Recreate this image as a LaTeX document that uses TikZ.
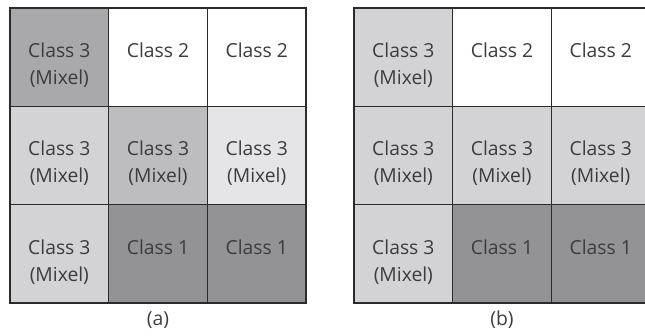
\documentclass[tikz,border=0pt]{standalone}
\usepackage{fontspec}
\setmainfont{Open Sans}
\usetikzlibrary{positioning}

\definecolor{gridline}{HTML}{2B2B2B}
\definecolor{inkgray}{HTML}{3C3C3C}
\definecolor{mixdark}{HTML}{A9A9AB}
\definecolor{mixmid}{HTML}{BDBDBF}
\definecolor{mixlight}{HTML}{D3D3D5}
\definecolor{mixpale}{HTML}{E5E5E7}
\definecolor{classone}{HTML}{939396}

\begin{document}
\begin{tikzpicture}[x=1pt, y=-1pt, node distance=0pt and 0pt,
  cell/.style={draw=gridline, line width=1.5pt, outer sep=0pt, inner sep=0pt, minimum width=98.7pt, minimum height=98.3pt},
  celltext/.style={align=center, anchor=north, inner sep=0pt, text=inkgray, font=\fontsize{19.3}{27}\selectfont},
  captext/.style={inner sep=0pt, text=inkgray, font=\fontsize{19.3}{27}\selectfont}]
\clip (0,0) rectangle (645,335);
% (a) mixels with different grey levels
\node[cell, fill=mixdark, anchor=north west] (a11) at (10,8) {};
\node[cell, fill=white, right=of a11] (a12) {};
\node[cell, fill=white, right=of a12] (a13) {};
\node[cell, fill=mixlight, below=of a11] (a21) {};
\node[cell, fill=mixmid, right=of a21] (a22) {};
\node[cell, fill=mixpale, right=of a22] (a23) {};
\node[cell, fill=mixlight, below=of a21] (a31) {};
\node[cell, fill=classone, right=of a31] (a32) {};
\node[cell, fill=classone, right=of a32] (a33) {};
\node[celltext] (ta11) at ([yshift=14.6pt]a11.center) {Class 3\\(Mixel)};
\node[celltext] (ta12) at ([yshift=14.6pt]a12.center) {Class 2};
\node[celltext] (ta13) at ([yshift=14.6pt]a13.center) {Class 2};
\node[celltext] (ta21) at ([yshift=14.6pt]a21.center) {Class 3\\(Mixel)};
\node[celltext] (ta22) at ([yshift=14.6pt]a22.center) {Class 3\\(Mixel)};
\node[celltext] (ta23) at ([yshift=14.6pt]a23.center) {Class 3\\(Mixel)};
\node[celltext] (ta31) at ([yshift=14.6pt]a31.center) {Class 3\\(Mixel)};
\node[celltext] (ta32) at ([yshift=14.6pt]a32.center) {Class 1};
\node[celltext] (ta33) at ([yshift=14.6pt]a33.center) {Class 1};
\node[captext] (capa) at ([yshift=-17pt]a32.south) {(a)};
% (b) mixels in one grey
\node[cell, fill=mixlight, anchor=north west] (b11) at (354,8) {};
\node[cell, fill=white, right=of b11] (b12) {};
\node[cell, fill=white, right=of b12] (b13) {};
\node[cell, fill=mixlight, below=of b11] (b21) {};
\node[cell, fill=mixlight, right=of b21] (b22) {};
\node[cell, fill=mixlight, right=of b22] (b23) {};
\node[cell, fill=mixlight, below=of b21] (b31) {};
\node[cell, fill=classone, right=of b31] (b32) {};
\node[cell, fill=classone, right=of b32] (b33) {};
\node[celltext] (tb11) at ([yshift=14.6pt]b11.center) {Class 3\\(Mixel)};
\node[celltext] (tb12) at ([yshift=14.6pt]b12.center) {Class 2};
\node[celltext] (tb13) at ([yshift=14.6pt]b13.center) {Class 2};
\node[celltext] (tb21) at ([yshift=14.6pt]b21.center) {Class 3\\(Mixel)};
\node[celltext] (tb22) at ([yshift=14.6pt]b22.center) {Class 3\\(Mixel)};
\node[celltext] (tb23) at ([yshift=14.6pt]b23.center) {Class 3\\(Mixel)};
\node[celltext] (tb31) at ([yshift=14.6pt]b31.center) {Class 3\\(Mixel)};
\node[celltext] (tb32) at ([yshift=14.6pt]b32.center) {Class 1};
\node[celltext] (tb33) at ([yshift=14.6pt]b33.center) {Class 1};
\node[captext] (capb) at ([yshift=-17pt]b32.south) {(b)};
\end{tikzpicture}
\end{document}
